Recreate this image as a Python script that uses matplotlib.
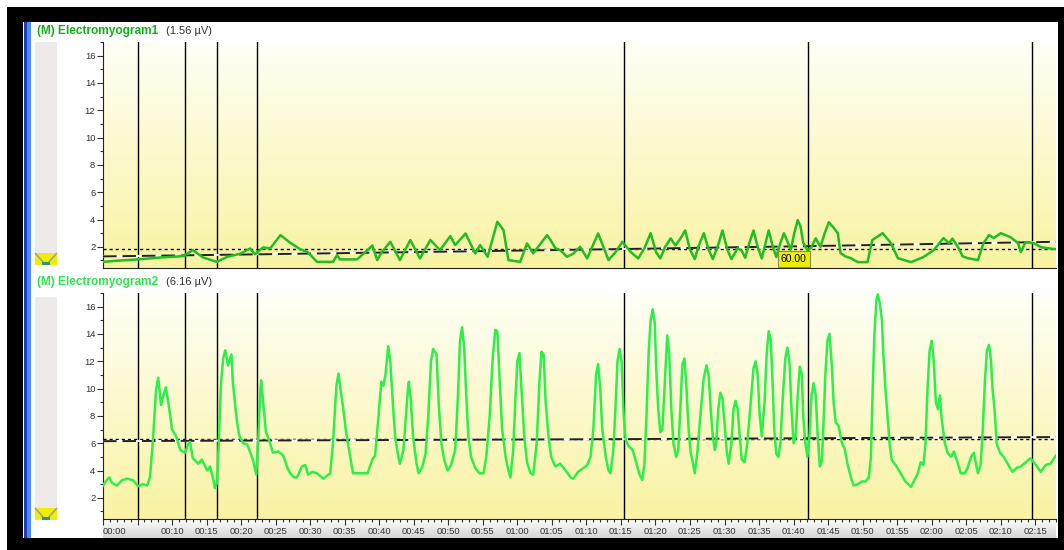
import matplotlib.pyplot as plt
import numpy as np
from matplotlib.colors import LinearSegmentedColormap
from matplotlib.patches import Rectangle, Polygon
from matplotlib.ticker import MultipleLocator, FixedLocator, FuncFormatter

plt.rcParams['font.family'] = ['Liberation Sans', 'DejaVu Sans']

# EMG envelopes: time (s) and amplitude (µV)
emg1_t = [0.0, 2.0, 5.1, 8.3, 11.6, 13.0, 14.5, 16.5, 18.0, 19.9, 21.3, 22.0, 23.2, 24.2,
          25.7, 27.1, 28.6, 29.6, 31.0, 33.3, 33.9, 34.3, 36.8, 38.3, 39.0, 39.7, 40.4,
          41.6, 43.0, 44.5, 45.9, 47.4, 48.8, 50.3, 51.0, 52.5, 53.9, 54.6, 55.7, 57.1,
          58.0, 58.7, 60.4, 61.4, 62.3, 64.3, 64.8, 65.5, 66.2, 67.2, 68.1, 69.1, 69.7,
          70.1, 71.7, 73.2, 74.2, 75.2, 76.4, 77.5, 78.4, 79.3, 80.1, 80.7, 81.4, 82.2,
          82.9, 83.6, 84.3, 85.0, 85.7, 86.2, 87.0, 87.7, 88.3, 89.0, 89.7, 90.4, 91.0,
          91.9, 92.5, 93.0, 93.6, 94.2, 94.8, 95.4, 95.9, 96.4, 97.0, 97.5, 98.1, 98.6,
          99.1, 99.6, 100.1, 100.6, 101.0, 101.4, 102.0, 102.5, 103.2, 103.9, 104.5,
          105.1, 105.8, 106.4, 106.8, 107.5, 108.3, 109.3, 110.7, 111.4, 112.9, 114.1,
          115.1, 117.0, 118.8, 120.3, 121.0, 121.7, 122.5, 123.0, 123.8, 124.5, 125.2,
          126.7, 127.5, 128.3, 129.0, 130.0, 131.4, 132.5, 132.9, 133.6, 134.8, 135.8,
          136.8, 138.0]
emg1_v = [0.9, 0.98, 1.08, 1.22, 1.32, 1.76, 1.22, 0.9, 1.27, 1.5, 1.88, 1.46, 1.96, 1.88,
          2.86, 2.3, 1.81, 1.63, 0.9, 0.9, 1.39, 1.08, 1.08, 1.76, 2.1, 1.03, 1.63,
          2.37, 1.03, 2.5, 1.15, 2.5, 1.76, 2.79, 2.13, 2.98, 1.52, 2.13, 1.27, 3.83,
          3.22, 1.03, 0.9, 2.25, 1.52, 2.86, 2.5, 1.9, 1.76, 1.27, 1.5, 2.0, 1.5,
          1.15, 2.98, 1.03, 1.6, 2.37, 1.63, 1.15, 1.9, 3.0, 1.6, 1.15, 2.0, 2.62,
          2.1, 2.6, 3.2, 1.8, 1.1, 2.0, 3.0, 1.8, 1.1, 2.0, 3.2, 1.8, 1.1,
          1.9, 1.7, 1.2, 2.3, 3.2, 2.0, 1.15, 2.2, 3.2, 2.0, 1.25, 2.3, 3.0,
          2.4, 1.8, 3.0, 3.96, 3.5, 2.3, 1.76, 1.9, 2.62, 2.0, 3.0,
          3.8, 3.4, 3.0, 1.54, 1.3, 1.17, 0.88, 0.88, 2.5, 3.0, 2.27,
          1.17, 0.88, 1.25, 1.76, 2.2, 2.64, 2.27, 2.6, 1.98, 1.3, 1.17,
          1.03, 2.27, 2.86, 2.64, 3.0, 2.71, 2.27, 1.61, 2.35, 2.27, 1.98,
          1.9, 1.83]

emg2_t = [0.0, 0.4, 0.9, 1.3, 2.0, 2.8, 3.5, 4.3, 5.1, 5.8, 6.4, 6.8, 7.2, 7.7, 8.0, 8.4,
          8.8, 9.1, 9.6, 10.0, 10.6, 11.2, 11.9, 12.3, 12.6, 13.0, 13.8, 14.3, 15.1,
          15.5, 16.0, 16.2, 16.5, 16.8, 17.1, 17.4, 17.7, 18.1, 18.6, 18.8, 19.3, 19.7,
          20.3, 20.9, 21.7, 22.2, 22.5, 22.8, 22.9, 23.2, 23.6, 24.2, 24.6, 25.4, 26.1,
          26.7, 27.1, 27.7, 28.1, 28.8, 29.3, 29.7, 30.3, 31.0, 31.9, 32.9, 33.3, 33.8,
          34.1, 34.3, 34.8, 35.2, 35.8, 36.2, 37.2, 38.3, 39.0, 39.4, 39.9, 40.3, 40.6,
          40.9, 41.3, 41.6, 41.9, 42.3, 42.8, 43.0, 43.5, 43.8, 44.2, 44.3, 44.6, 44.9,
          45.4, 45.7, 46.2, 46.7, 47.1, 47.5, 47.8, 48.3, 48.6, 49.0, 49.4, 49.9, 50.4,
          51.0, 51.4, 51.7, 52.0, 52.3, 52.6, 52.9, 53.3, 53.9, 54.5, 55.1, 55.5, 56.0,
          56.4, 56.8, 57.1, 57.4, 57.8, 58.3, 58.7, 59.0, 59.4, 59.7, 60.0, 60.3, 60.6,
          61.0, 61.4, 61.9, 62.3, 62.8, 63.2, 63.5, 63.8, 64.1, 64.5, 64.9, 65.5, 66.2,
          67.0, 67.7, 68.1, 68.8, 69.6, 70.1, 70.6, 71.0, 71.4, 71.7, 72.0, 72.3, 72.8,
          73.2, 73.5, 73.9, 74.2, 74.5, 74.8, 75.1, 75.4, 75.7, 76.1, 76.7, 77.2, 77.7,
          78.1, 78.4, 78.7, 79.0, 79.3, 79.6, 79.9, 80.1, 80.4, 80.7, 81.0, 81.3, 81.6,
          81.7, 82.0, 82.3, 82.6, 83.0, 83.3, 83.6, 83.9, 84.2, 84.5, 84.8, 85.1, 85.4,
          85.7, 86.1, 86.5, 87.0, 87.4, 87.7, 88.0, 88.3, 88.6, 88.8, 89.1, 89.4, 89.7,
          90.0, 90.3, 90.6, 91.0, 91.3, 91.6, 91.9, 92.2, 92.5, 92.9, 93.3, 93.8, 94.2,
          94.5, 94.8, 95.1, 95.4, 95.8, 96.1, 96.4, 96.7, 97.0, 97.2, 97.5, 97.8, 98.1,
          98.4, 98.8, 99.1, 99.4, 99.7, 100.0, 100.3, 100.6, 100.9, 101.2, 101.4, 101.7,
          102.0, 102.3, 102.6, 102.9, 103.2, 103.5, 103.8, 104.1, 104.3, 104.6, 104.9,
          105.2, 105.5, 105.8, 106.1, 106.5, 107.0, 107.4, 107.8, 108.3, 108.7, 109.3,
          109.9, 110.4, 110.9, 111.2, 111.4, 111.7, 112.0, 112.2, 112.5, 112.8, 113.0,
          113.3, 113.6, 113.9, 114.2, 114.9, 115.5, 116.2, 117.0, 117.5, 118.0, 118.4,
          118.8, 119.1, 119.4, 119.7, 120.0, 120.3, 120.6, 120.9, 121.2, 121.4, 121.9,
          122.3, 122.8, 123.2, 123.8, 124.2, 124.8, 125.2, 125.7, 126.1, 126.4, 126.7,
          127.1, 127.4, 127.7, 128.0, 128.3, 128.6, 128.8, 129.1, 129.4, 129.9, 130.4,
          131.0, 131.7, 132.3, 132.9, 133.6, 134.3, 135.1, 135.8, 136.5, 137.2, 138.0]
emg2_v = [2.9, 3.2, 3.5, 3.1, 2.9, 3.3, 3.4, 3.3, 2.85, 3.0, 2.9, 3.5, 6.0, 10.0, 10.8, 8.8,
          9.6, 10.1, 8.5, 7.0, 6.5, 5.5, 5.3, 5.9, 6.1, 4.9, 4.5, 4.8, 4.0,
          4.3, 3.3, 2.7, 3.1, 6.5, 10.5, 12.2, 12.8, 11.7, 12.5, 10.5, 8.0, 6.6,
          6.0, 5.9, 4.8, 3.7, 6.5, 10.0, 10.6, 9.0, 6.8, 6.0, 5.3, 5.4, 5.1,
          4.2, 3.8, 3.5, 3.5, 4.3, 4.4, 3.7, 3.9, 3.8, 3.4, 3.8, 6.0, 10.2,
          11.1, 10.3, 8.5, 6.8, 5.0, 3.8, 3.8, 3.8, 4.8, 5.1, 8.0, 10.5, 10.2,
          11.0, 13.1, 12.0, 9.5, 6.5, 4.9, 4.5, 5.5, 7.5, 10.2, 10.5, 9.0, 6.5,
          4.5, 3.8, 4.2, 5.2, 8.0, 12.0, 12.9, 12.5, 9.0, 6.0, 4.8, 4.0, 4.4,
          5.5, 9.5, 13.5, 14.5, 13.0, 9.5, 6.5, 5.0, 4.2, 3.8, 3.8, 5.0, 8.0,
          12.0, 14.3, 14.2, 11.0, 7.0, 5.0, 4.0, 3.5, 5.5, 9.0, 12.0, 12.6, 10.0,
          6.5, 4.6, 3.8, 3.7, 6.0, 10.5, 12.7, 12.5, 9.0, 6.5, 5.0, 4.3, 4.5,
          4.0, 3.5, 3.4, 3.9, 4.2, 4.4, 5.0, 7.0, 11.0, 11.8, 10.0, 7.0, 5.0,
          4.0, 3.8, 5.5, 8.5, 12.0, 12.9, 12.0, 8.0, 6.2, 5.8, 5.5, 4.6, 3.7,
          3.3, 4.5, 8.0, 12.5, 15.0, 15.8, 14.8, 11.5, 8.5, 6.8, 7.0, 10.0, 13.0,
          13.9, 12.5, 8.5, 6.0, 5.0, 5.5, 8.5, 11.8, 12.2, 10.0, 7.0, 5.3, 4.6,
          3.8, 5.5, 8.0, 10.8, 11.7, 11.0, 8.5, 6.5, 5.5, 6.0, 8.5, 9.7, 9.3,
          7.5, 5.5, 4.5, 6.0, 8.5, 9.1, 8.5, 6.5, 4.8, 4.6, 6.0, 9.0, 11.5,
          12.0, 11.0, 8.0, 6.5, 9.0, 12.5, 14.2, 13.5, 10.0, 7.0, 5.2, 5.0, 6.0,
          9.0, 12.2, 13.0, 12.0, 8.5, 6.0, 6.5, 9.5, 11.6, 11.0, 8.0, 6.0,
          5.0, 6.5, 9.5, 10.4, 9.5, 6.5, 4.3, 4.7, 7.0, 11.0, 13.5,
          14.0, 12.0, 9.0, 7.5, 7.3, 6.0, 5.6, 4.5, 3.5, 2.9, 3.0,
          3.2, 3.2, 3.5, 5.0, 9.0, 14.0, 16.5, 16.9, 16.2, 15.0, 12.5,
          10.0, 8.0, 6.0, 4.8, 4.3, 3.8, 3.2, 2.8, 3.3, 3.8, 4.6,
          4.4, 6.0, 10.0, 12.8, 13.5, 12.0, 9.0, 8.5, 9.5, 8.0, 6.0,
          5.3, 5.0, 5.4, 4.5, 3.8, 3.8, 4.2, 5.0, 5.3, 4.5, 3.8,
          4.5, 7.0, 10.5, 12.8, 13.2, 12.0, 10.0, 8.5, 6.0, 5.3, 5.0,
          4.5, 3.9, 4.2, 4.3, 4.6, 4.9, 4.4, 3.9, 4.4, 4.5, 5.1]

# event markers (s)
markers = [5.0, 11.9, 16.5, 22.3, 75.5, 102.1, 134.5]

# threshold (dotted) and running mean (dashed)
emg1_thresh = 1.85
emg2_thresh = 6.3
emg1_avg_t = [0, 22.3, 65, 102, 138]
emg1_avg_v = [1.3, 1.45, 1.76, 2.05, 2.37]
emg2_avg_t = [0, 75, 138]
emg2_avg_v = [6.15, 6.3, 6.45]

channel_names = ['(M) Electromyogram1', '(M) Electromyogram2']
channel_means = ['(1.56 µV)', '(6.16 µV)']
marker_label = '60.00'
marker_label_t = 101.9

W, H = 1064, 550
fig = plt.figure(figsize=(W / 100, H / 100), dpi=100)
fig.patch.set_facecolor('white')

# frame / decorations drawn in pixel space
bg = fig.add_axes([0, 0, 1, 1], zorder=-5)
bg.set_xlim(0, W)
bg.set_ylim(H, 0)
bg.axis('off')
bg.add_patch(Rectangle((7, 7), W - 7, H - 7, fc='black', ec='none'))
bg.add_patch(Rectangle((23, 22), 1035, 516, fc='white', ec='none'))
bg.add_patch(Rectangle((24, 22), 2.5, 516, fc='#1c3cb8', ec='none'))
bg.add_patch(Rectangle((26.5, 22), 4, 516, fc='#4a8cff', ec='none'))

strip = LinearSegmentedColormap.from_list('strip', ['#ffffff', '#d4d4d4'])
sx = fig.add_axes([103 / W, 1 - 538 / H, 953 / W, 19 / H], zorder=-4)
sx.imshow(np.linspace(0, 1, 50).reshape(-1, 1), aspect='auto', cmap=strip,
          extent=[0, 1, 0, 1])
sx.axis('off')

for top in (42, 297):
    bot = top + 211
    bg.add_patch(Rectangle((35, top), 22, bot - top, fc='#eeeaea', ec='none'))
    bg.add_patch(Rectangle((35, bot), 22, 12, fc='#f2ee00', ec='none'))
    bg.add_patch(Polygon([(35, bot), (44, bot + 10), (48, bot + 10), (57, bot)],
                         closed=False, fill=False, ec='#a0a0a0', lw=1.2))
    bg.add_patch(Rectangle((42, bot + 8.5), 8, 3, fc='#20a070', ec='none'))

bg_cmap = LinearSegmentedColormap.from_list('panel', ['#f9f3a2', '#fffff6'])

panels = [
    (42, emg1_t, emg1_v, emg1_thresh, emg1_avg_t, emg1_avg_v, '#1fbf1f', '#13b213'),
    (293, emg2_t, emg2_v, emg2_thresh, emg2_avg_t, emg2_avg_v, '#2cf04a', '#2ae84c'),
]

axes = []
for i, (top, t, v, thr, at, av, lc, tc) in enumerate(panels):
    ax = fig.add_axes([103 / W, 1 - (top + 226) / H, 953 / W, 226 / H])
    ax.imshow(np.linspace(0, 1, 100).reshape(-1, 1), aspect='auto', cmap=bg_cmap,
              origin='lower', extent=[0, 138, 0.45, 17.0], zorder=0)
    for m in markers:
        ax.axvline(m, color='black', lw=1.0, zorder=2)
    ax.axhline(thr, color='black', lw=1.0, ls=(0, (2.2, 2.2)), zorder=3)
    ax.plot(at, av, color='white', lw=1.4, zorder=3)
    ax.plot(at, av, color='#222222', lw=1.4, ls=(0, (7, 3)), zorder=3)
    ax.plot(t, v, color=lc, lw=1.8, zorder=4)
    ax.set_xlim(0, 138)
    ax.set_ylim(0.45, 17.0)
    for s in ('top', 'right'):
        ax.spines[s].set_visible(False)
    ax.spines['left'].set_color('#222222')
    ax.spines['bottom'].set_color('#222222')
    ax.yaxis.set_major_locator(FixedLocator([2, 4, 6, 8, 10, 12, 14, 16]))
    ax.yaxis.set_minor_locator(FixedLocator([1, 3, 5, 7, 9, 11, 13, 15, 17]))
    ax.tick_params(axis='y', which='major', length=4, width=0.8, labelsize=6.8,
                   colors='#333333', pad=1.5)
    ax.tick_params(axis='y', which='minor', length=2, width=0.8, colors='#333333')

    bg.text(37, top - 11, channel_names[i], color=tc, fontsize=8.6,
            fontweight='bold', va='center', ha='left')
    bg.text(166, top - 11, channel_means[i], color='#333333', fontsize=8,
            va='center', ha='left')
    axes.append(ax)

top_ax, bot_ax = axes
top_ax.tick_params(axis='x', which='both', length=0, labelbottom=False)

# yellow value tag on the top channel
top_ax.text(marker_label_t, 0.75, marker_label, ha='right', va='bottom', fontsize=7.5,
            color='black', zorder=6,
            bbox=dict(boxstyle='square,pad=0.3', fc='#eeee00', ec='#8c8c50', lw=0.8))


def clock(x, pos):
    sec = int(round(x))
    return f'{sec // 60:02d}:{sec % 60:02d}'


def clock_ticks(x, pos):
    # 00:00 gets its own left-aligned label below; 00:05 is hidden behind a marker
    if int(round(x)) in (0, 5):
        return ''
    return clock(x, pos)


bot_ax.xaxis.set_major_locator(MultipleLocator(5))
bot_ax.xaxis.set_minor_locator(MultipleLocator(1))
bot_ax.xaxis.set_major_formatter(FuncFormatter(clock_ticks))
bot_ax.tick_params(axis='x', which='major', length=4, width=0.8, labelsize=6.8,
                   colors='#333333', pad=1.5)
bot_ax.tick_params(axis='x', which='minor', length=2, width=0.8, colors='#333333')
bot_ax.annotate(clock(0, None), xy=(0, 0), xycoords=bot_ax.get_xaxis_transform(),
                xytext=(0, -5.5), textcoords='offset points', ha='left', va='top',
                fontsize=6.8, color='#333333', annotation_clip=False)

fig.savefig('out.png', dpi=100)
